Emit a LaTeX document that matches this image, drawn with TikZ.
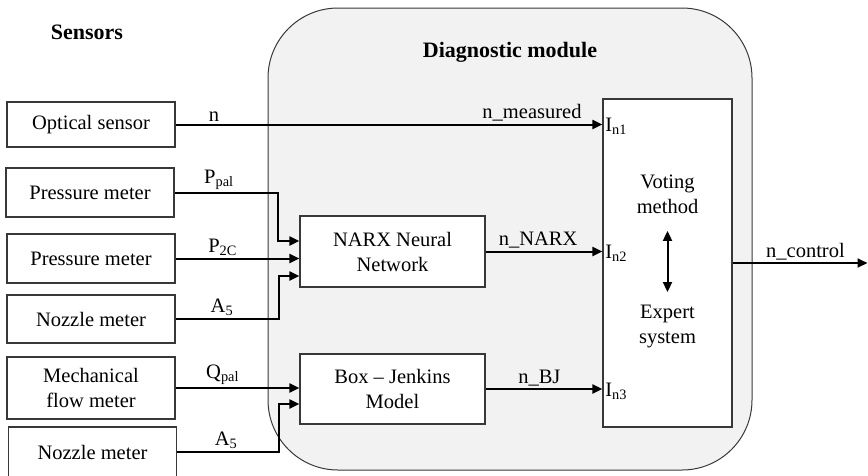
\documentclass[tikz,border=0pt]{standalone}
\usepackage{fontspec}
\setmainfont{Liberation Serif}
\usetikzlibrary{positioning, arrows.meta}
\usetikzlibrary{calc}
\definecolor{modulegray}{HTML}{F2F2F2}
\definecolor{edgegray}{HTML}{383838}
\tikzset{
x=1pt, y=-1pt, % pixel units, y grows downwards
every node/.style={font=\fontsize{20.5}{25}\selectfont},
block/.style={draw=edgegray, line width=1.2pt, fill=white, align=center, minimum width=168pt}, % sensor boxes
model/.style={block, minimum width=185pt, minimum height=71pt}, % the two models
conn/.style={line width=2pt, -{Triangle[length=10pt,width=9pt]}}, % signal lines
sig/.style={above, inner sep=2pt}, % signal names
title/.style={font=\fontsize{22}{26}\selectfont\bfseries},
}

\begin{document}
\begin{tikzpicture}
      \useasboundingbox (0,0) rectangle (868,475);
      \node[draw=edgegray, line width=1pt, fill=modulegray, rounded corners=70pt, minimum width=484pt, minimum height=462pt] (module) at (510,239) {};
      \node[title] (sensors) at (87,32) {Sensors};
      \node[title] (diag) at (510,52) {Diagnostic module};

      % sensors
      \node[block, minimum height=45pt] (optical) at (91,124.5) {Optical sensor};
      \node[block, minimum height=49pt] (press1) at (90,192.5) {Pressure meter};
      \node[block, minimum height=49pt] (press2) at (91,258.5) {Pressure meter};
      \node[block, minimum height=48pt] (nozzle1) at (91,319) {Nozzle meter};
      \node[block, minimum height=62pt] (mech) at (91,388) {Mechanical\\flow meter};
      \node[block, minimum height=50pt] (nozzle2) at (92.5,452) {Nozzle meter};

      % models and voting
      \node[model] (narx) at (392.5,251.5) {NARX Neural\\Network};
      \node[model, minimum height=70pt] (bj) at (392.5,389) {Box -- Jenkins\\Model};
      \node[block, minimum width=129pt, minimum height=328pt] (vote) at (667.5,263) {};
      \node[align=center] (vm) at (667.5,194) {Voting\\method};
      \node[align=center] (es) at (667.5,326) {Expert\\system};
      \draw[line width=2pt, {Triangle[length=10pt,width=9pt]}-{Triangle[length=10pt,width=9pt]}, shorten <=14pt, shorten >=9pt] (vm) -- (es);
      \coordinate (ctrl) at (867.5,263);

      % signals
      \draw[conn] (optical.east) -- node[sig, pos=0.09] (lbln) {n} node[sig, pos=0.835] (lblmeas) {n\_measured} (vote.west |- optical.east) node[anchor=west, inner sep=2pt, yshift=-2pt] (in1) {I\textsubscript{n1}};
      \draw[conn] (press1.east) -- node[sig, pos=0.43] (lblppal) {P\textsubscript{pal}} ++(103,0) |- ([yshift=10.5pt]narx.west);
      \draw[conn] (press2.east) -- node[sig, pos=0.38] (lblp2c) {P\textsubscript{2C}} (narx.west |- press2.east);
      \draw[conn] (nozzle1.east) -- node[sig, pos=0.45] (lbla1) {A\textsubscript{5}} ++(103,0) |- ([yshift=-24.5pt]narx.west);
      \draw[conn] (mech.east) -- node[sig, pos=0.38] (lblqpal) {Q\textsubscript{pal}} (bj.west |- mech.east);
      \draw[conn] (nozzle2.east) -- node[sig, pos=0.48] (lbla2) {A\textsubscript{5}} ++(102,0) |- ([yshift=-15pt]bj.west);
      \draw[conn] (narx.east) -- node[sig, pos=0.45] (lblnarx) {n\_NARX} (vote.west |- narx.east) node[anchor=west, inner sep=2pt, yshift=-2pt] (in2) {I\textsubscript{n2}};
      \draw[conn] (bj.east) -- node[sig, pos=0.46] (lblbj) {n\_BJ} (vote.west |- bj.east) node[anchor=west, inner sep=2pt, yshift=-2pt] (in3) {I\textsubscript{n3}};
      \draw[conn] (vote.east) -- node[sig, pos=0.54] (lblctrl) {n\_control} (ctrl);
\end{tikzpicture}
\end{document}
